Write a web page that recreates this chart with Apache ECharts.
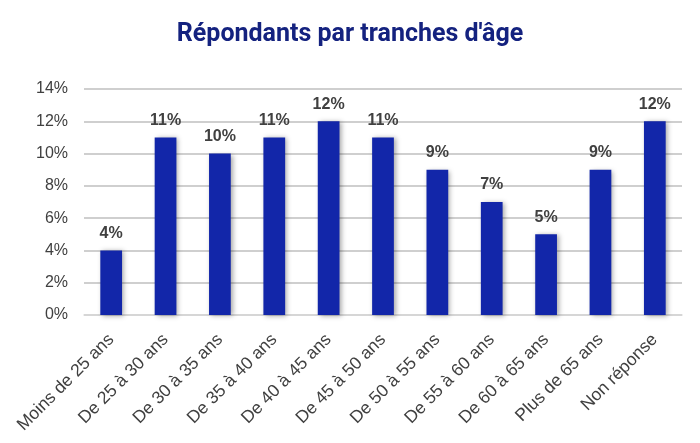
<!DOCTYPE html>
<html>
<head>
<meta charset="utf-8">
<script src="https://cdn.jsdelivr.net/npm/echarts@6/dist/echarts.min.js"></script>
<style>
  html, body { margin: 0; padding: 0; background: #fff; }
  #chart { width: 700px; height: 443px; }
</style>
</head>
<body>
<div id="chart"></div>
<script>
const categories = [
  "Moins de 25 ans", "De 25 à 30 ans", "De 30 à 35 ans", "De 35 à 40 ans",
  "De 40 à 45 ans", "De 45 à 50 ans", "De 50 à 55 ans", "De 55 à 60 ans",
  "De 60 à 65 ans", "Plus de 65 ans", "Non réponse"
];
const values = [4, 11, 10, 11, 12, 11, 9, 7, 5, 9, 12];

let myChart = echarts.init(document.getElementById("chart"));

let option = {
  title: {
    text: "Répondants par tranches d'âge",
    left: "center",
    top: 17,
    textStyle: {
      fontFamily: "Roboto",
      fontWeight: "bold",
      fontSize: 25,
      color: "#14227f"
    }
  },
  grid: { left: 84, right: 18, top: 89, bottom: 128 },
  xAxis: {
    type: "category",
    data: categories,
    axisTick: { show: false },
    axisLine: { lineStyle: { color: "#d9d9d9", width: 1.5 } },
    axisLabel: {
      rotate: 45,
      interval: 0,
      margin: 22,
      fontFamily: "Liberation Sans",
      fontSize: 17.5,
      color: "#404040"
    }
  },
  yAxis: {
    type: "value",
    min: 0,
    max: 14,
    interval: 2,
    axisLabel: {
      formatter: "{value}%",
      fontFamily: "Liberation Sans",
      fontSize: 16,
      color: "#404040",
      margin: 16
    },
    splitLine: { lineStyle: { color: "#bfbfbf", width: 1.5 } }
  },
  series: [
    {
      type: "bar",
      data: values,
      barWidth: "40%",
      itemStyle: {
        color: "#1226a9",
        shadowBlur: 5,
        shadowOffsetX: 2,
        shadowOffsetY: 1,
        shadowColor: "rgba(0,0,0,0.35)"
      },
      label: {
        show: true,
        position: "top",
        distance: 9,
        formatter: "{c}%",
        fontFamily: "Liberation Sans",
        fontWeight: "bold",
        fontSize: 16,
        color: "#404040"
      }
    }
  ]
};
myChart.setOption(option);
</script>
</body>
</html>
